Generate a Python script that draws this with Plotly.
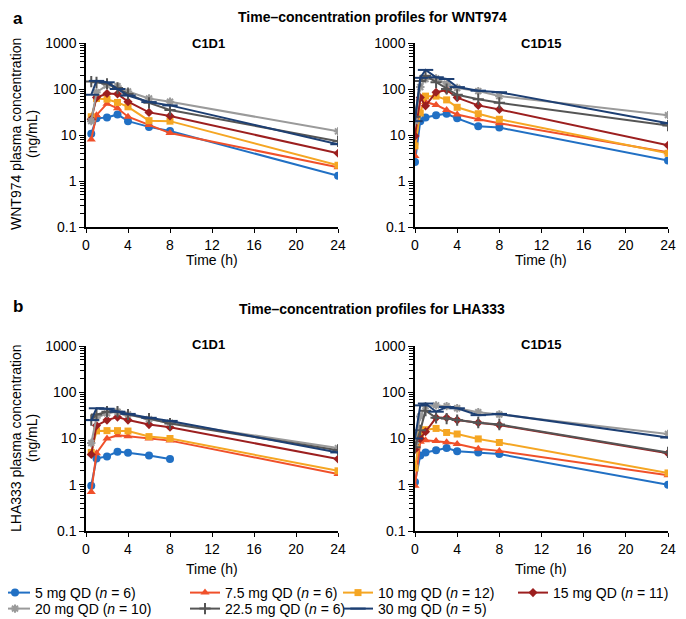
import plotly.graph_objects as go

# page is offset by the browser's 8px body margin
OFF = 8
W, H = 686 - OFF, 619 - OFF

# ---------------- data ----------------
doses = ["5 mg QD (<i>n</i> = 6)", "7.5 mg QD (<i>n</i> = 6)", "10 mg QD (<i>n</i> = 12)",
         "15 mg QD (<i>n</i> = 11)", "20 mg QD (<i>n</i> = 10)", "22.5 mg QD (<i>n</i> = 6)",
         "30 mg QD (<i>n</i> = 5)"]

times_c1d1 = [0.5, 1, 2, 3, 4, 6, 8, 24]
times_c1d15 = [0, 0.5, 1, 2, 3, 4, 6, 8, 24]

wnt_c1d1 = [
    [10.7, 23, 24, 28, 20, 15, 12.2, 1.3],
    [8, 27, 48, 38, 25, 16.5, 11, 2.0],
    [25, 62, 60, 51, 41, 20.5, 20, 2.2],
    [22, 65, 80, 78, 53, 31, 26, 4.0],
    [20, 85, 120, 115, 88, 62, 53, 12],
    [145, 140, 130, 105, 78, 50, 35, 7.3],
    [75, 150, 140, 100, 72, 52, 44, 6.3],
]
wnt_c1d15 = [
    [2.6, 20, 24, 27, 29, 23, 15.5, 14.5, 2.8],
    [3.5, 62, 52, 45, 35, 28, 22, 18, 4.2],
    [5.8, 30, 70, 70, 58, 40, 29, 22, 4.0],
    [9.5, 65, 43, 85, 95, 65, 44, 36, 6.0],
    [20, 110, 165, 170, 130, 105, 90, 70, 27],
    [25, 150, 195, 140, 100, 75, 60, 50, 16],
    [20, 175, 260, 180, 165, 110, 92, 85, 18],
]
lha_c1d1 = [
    [0.95, 3.7, 4.1, 5.2, 4.9, 4.3, 3.6, None],
    [0.7, 4.8, 10, 11.8, 11.2, 10, 9, 1.7],
    [5, 14.6, 14.8, 14.8, 14.5, 11, 10, 2.0],
    [4.5, 19, 25, 29, 25, 20, 17.5, 3.6],
    [8, 28, 35, 38, 33, 26, 22, 6.2],
    [25, 33, 38, 38, 33, 27, 21, 5.6],
    [25, 45, 44, 38, 34, 28, 24, 5.0],
]
lha_c1d15 = [
    [1.15, 4.3, 5.0, 5.6, 6.2, 5.3, 5.0, 4.6, 1.0],
    [0.95, 8.5, 9.2, 8.8, 8.3, 7.6, 6.0, 5.4, 1.6],
    [2.3, 12, 15.5, 16.5, 13.5, 12.5, 9.8, 8.2, 1.8],
    [5.8, 10, 14, 28, 28, 25, 22, 19.5, 4.8],
    [8, 30, 50, 52, 50, 45, 37, 33, 12.5],
    [6.5, 15, 40, 28, 27, 25, 22, 20, 5.0],
    [10, 52, 57, 38, 48, 45, 32, 34, 10.5],
]

x_ticks = [0, 4, 8, 12, 16, 20, 24]
y_ticks = [0.1, 1, 10, 100, 1000]
y_ticktext = ["0.1", "1", "10", "100", "1000"]

# ---------------- styles ----------------
colors = ["#2170c4", "#f0502a", "#f5a623", "#9c1f1f", "#9a9a9a", "#555555", "#1d3f73"]
symbols = ["circle", "triangle-up", "square", "diamond", "asterisk-open",
           "cross-thin-open", "line-ew-open"]
msizes = [8, 8, 7, 7, 7, 8, 11]
FONT = "Liberation Sans, Arial, sans-serif"

def px_x(p):
    return (p - OFF) / W

def px_y(p):
    return 1 - (p - OFF) / H

fig = go.Figure()

panels = [
    (wnt_c1d1, times_c1d1, "x", "y"),
    (wnt_c1d15, times_c1d15, "x2", "y2"),
    (lha_c1d1, times_c1d1, "x3", "y3"),
    (lha_c1d15, times_c1d15, "x4", "y4"),
]

legend_names = ["legend"] + ["legend%d" % (k + 1) for k in range(1, 7)]

for pi, (data, times, xa, ya) in enumerate(panels):
    for i, vals in enumerate(data):
        open_sym = symbols[i].endswith("open")
        fig.add_trace(go.Scatter(
            x=times, y=vals, mode="lines+markers", name=doses[i],
            xaxis=xa, yaxis=ya,
            line=dict(color=colors[i], width=2),
            marker=dict(symbol=symbols[i], size=msizes[i], color=colors[i],
                        line=dict(color=colors[i], width=2 if open_sym else 0)),
            showlegend=(pi == 0),
            legend=legend_names[i],
            connectgaps=False,
        ))

xdom_l = [px_x(86), px_x(338)]
xdom_r = [px_x(415), px_x(668)]
ydom_t = [px_y(227), px_y(43)]
ydom_b = [px_y(531), px_y(346)]

minor_vals = [m * 10 ** e for e in range(-1, 3) for m in range(2, 10)]

def xaxis(dom, anchor):
    return dict(domain=dom, anchor=anchor, range=[0, 24], tickvals=x_ticks,
                showline=True, linecolor="black", linewidth=1.5, ticks="outside",
                ticklen=4, tickwidth=1.2, tickcolor="black", showgrid=False,
                zeroline=False, tickfont=dict(family=FONT, size=14, color="black"))

def yaxis(dom, anchor):
    return dict(domain=dom, anchor=anchor, type="log", range=[-1, 3],
                tickvals=y_ticks, ticktext=y_ticktext,
                showline=True, linecolor="black", linewidth=1.5, ticks="outside",
                ticklen=5, tickwidth=1.2, tickcolor="black", showgrid=False,
                zeroline=False, tickfont=dict(family=FONT, size=14, color="black"),
                minor=dict(tickmode="array", tickvals=minor_vals, ticks="outside",
                           ticklen=4, tickwidth=1, tickcolor="black", showgrid=False))

ann = []
def text(x, y, s, size=14, bold=False, angle=0, xanchor="center"):
    ann.append(dict(x=px_x(x), y=px_y(y), xref="paper", yref="paper",
                    text=("<b>" + s + "</b>") if bold else s,
                    showarrow=False, textangle=angle, xanchor=xanchor, yanchor="middle",
                    font=dict(family=FONT, size=size, color="black")))

text(11, 18, "a", 17, True, xanchor="left")
text(11, 307, "b", 17, True, xanchor="left")
text(372, 17, "Time–concentration profiles for WNT974", 14, True)
text(372, 309, "Time–concentration profiles for LHA333", 14, True)
text(208, 44, "C1D1", 13, True)
text(541, 44, "C1D15", 13, True)
text(208, 344, "C1D1", 13, True)
text(541, 344, "C1D15", 13, True)
for cx in (212, 541):
    text(cx, 260, "Time (h)", 14)
    text(cx, 569, "Time (h)", 14)
text(16, 134, "WNT974 plasma concentration", 14, angle=-90)
text(32, 134, "(ng/mL)", 14, angle=-90)
text(16, 438, "LHA333 plasma concentration", 14, angle=-90)
text(32, 438, "(ng/mL)", 14, angle=-90)

# legend placement (symbol start x, row y) in page pixels
leg_cols = [13, 203, 356, 531]
leg_rows = [593, 609]
legends = {}
for i, name in enumerate(legend_names):
    row = 0 if i < 4 else 1
    col = i if i < 4 else i - 4
    legends[name] = dict(
        orientation="h", x=px_x(leg_cols[col] - 18), xanchor="left",
        y=px_y(leg_rows[row]), yanchor="middle", itemwidth=30,
        font=dict(family=FONT, size=14, color="black"),
        bgcolor="rgba(0,0,0,0)", borderwidth=0)

fig.update_layout(
    width=W, height=H, margin=dict(l=0, r=0, t=0, b=0, autoexpand=False),
    paper_bgcolor="white", plot_bgcolor="white",
    xaxis=xaxis(xdom_l, "y"), yaxis=yaxis(ydom_t, "x"),
    xaxis2=xaxis(xdom_r, "y2"), yaxis2=yaxis(ydom_t, "x2"),
    xaxis3=xaxis(xdom_l, "y3"), yaxis3=yaxis(ydom_b, "x3"),
    xaxis4=xaxis(xdom_r, "y4"), yaxis4=yaxis(ydom_b, "x4"),
    annotations=ann,
    font=dict(family=FONT, color="black"),
    **legends,
)

fig.write_html("out.html")
